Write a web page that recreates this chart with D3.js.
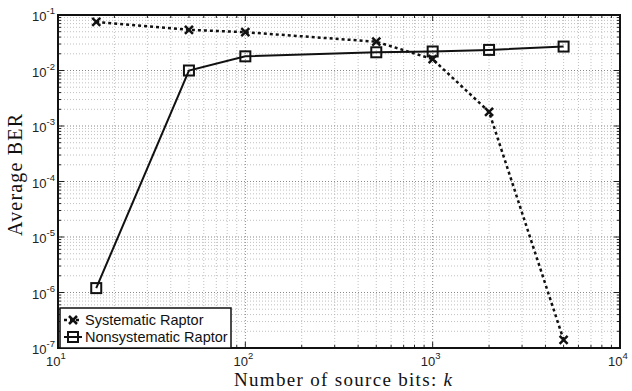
<!DOCTYPE html>
<html><head><meta charset="utf-8">
<script src="https://cdn.jsdelivr.net/npm/d3@7"></script>
<style>body{margin:0;background:#fff}svg{display:block}</style>
</head><body>
<script>
const kValues = [16, 50, 100, 500, 1000, 2000, 5000];
const systematicBER = [0.075, 0.054, 0.049, 0.033, 0.016, 0.0018, 1.4e-7];
const nonsystematicBER = [1.2e-6, 0.01, 0.018, 0.0213, 0.022, 0.0235, 0.027];
const seriesNames = ["Systematic Raptor", "Nonsystematic Raptor"];
const xTickExps = [1, 2, 3, 4];
const yTickExps = [-1, -2, -3, -4, -5, -6, -7];

const W = 632, H = 391;
const m = {l: 58, r: 12, t: 15, b: 43};
const svg = d3.select("body").append("svg").attr("width", W).attr("height", H);
const x = d3.scaleLog().domain([10, 1e4]).range([m.l, W - m.r]);
const y = d3.scaleLog().domain([1e-7, 1e-1]).range([H - m.b, m.t]);
const x0 = m.l, x1 = W - m.r, y0 = H - m.b, y1 = m.t;

const xMinor = [], yMinor = [];
for (let e = 1; e < 4; e++) for (let d = 2; d <= 9; d++) xMinor.push(d * Math.pow(10, e));
for (let e = -7; e < -1; e++) for (let d = 2; d <= 9; d++) yMinor.push(d * Math.pow(10, e));
const xMajor = xTickExps.map(e => Math.pow(10, e));
const yMajor = yTickExps.map(e => Math.pow(10, e));

const g = svg.append("g");
g.selectAll(".gxm").data(xMinor).enter().append("line")
  .attr("x1", d => x(d)).attr("x2", d => x(d)).attr("y1", y0).attr("y2", y1)
  .attr("stroke", "#b0b0b0").attr("stroke-width", 0.8).attr("stroke-dasharray", "1,2");
g.selectAll(".gym").data(yMinor).enter().append("line")
  .attr("y1", d => y(d)).attr("y2", d => y(d)).attr("x1", x0).attr("x2", x1)
  .attr("stroke", "#b0b0b0").attr("stroke-width", 0.8).attr("stroke-dasharray", "1,2");
g.selectAll(".gxM").data(xMajor).enter().append("line")
  .attr("x1", d => x(d)).attr("x2", d => x(d)).attr("y1", y0).attr("y2", y1)
  .attr("stroke", "#888").attr("stroke-width", 1).attr("stroke-dasharray", "1,2");
g.selectAll(".gyM").data(yMajor).enter().append("line")
  .attr("y1", d => y(d)).attr("y2", d => y(d)).attr("x1", x0).attr("x2", x1)
  .attr("stroke", "#888").attr("stroke-width", 1).attr("stroke-dasharray", "1,2");

function ticks(vals, len, horiz) {
  vals.forEach(v => {
    if (horiz) {
      const p = x(v);
      g.append("line").attr("x1", p).attr("x2", p).attr("y1", y0).attr("y2", y0 - len).attr("stroke", "#222").attr("stroke-width", 1);
      g.append("line").attr("x1", p).attr("x2", p).attr("y1", y1).attr("y2", y1 + len).attr("stroke", "#222").attr("stroke-width", 1);
    } else {
      const p = y(v);
      g.append("line").attr("y1", p).attr("y2", p).attr("x1", x0).attr("x2", x0 + len).attr("stroke", "#222").attr("stroke-width", 1);
      g.append("line").attr("y1", p).attr("y2", p).attr("x1", x1).attr("x2", x1 - len).attr("stroke", "#222").attr("stroke-width", 1);
    }
  });
}
ticks(xMinor, 3, true); ticks(xMajor, 6, true);
ticks(yMinor, 3, false); ticks(yMajor, 6, false);

const tf = "Liberation Sans, Arial, sans-serif";
xTickExps.forEach(e => {
  const t = svg.append("text").attr("x", x(Math.pow(10, e)) - 2).attr("y", y0 + 18)
    .attr("text-anchor", "middle").attr("font-family", tf).attr("font-size", 13).attr("fill", "#222");
  t.append("tspan").text("10");
  t.append("tspan").text(e).attr("font-size", 9.5).attr("dy", -7);
});
yTickExps.forEach(e => {
  const t = svg.append("text").attr("x", x0 - 3).attr("y", y(Math.pow(10, e)) + 6)
    .attr("text-anchor", "end").attr("font-family", tf).attr("font-size", 13).attr("fill", "#222");
  t.append("tspan").text("10");
  t.append("tspan").text(e).attr("font-size", 9.5).attr("dy", -7);
});

const sys = kValues.map((k, i) => [k, systematicBER[i]]);
const non = kValues.map((k, i) => [k, nonsystematicBER[i]]);
const line = d3.line().x(d => x(d[0])).y(d => y(d[1]));
svg.append("path").attr("d", line(non)).attr("fill", "none").attr("stroke", "#111").attr("stroke-width", 2);
svg.append("path").attr("d", line(sys)).attr("fill", "none").attr("stroke", "#111").attr("stroke-width", 2.5).attr("stroke-dasharray", "3,3");

function square(gg, cx, cy) {
  gg.append("rect").attr("x", cx - 5).attr("y", cy - 5).attr("width", 10).attr("height", 10)
    .attr("fill", "none").attr("stroke", "#111").attr("stroke-width", 2);
}
function cross(gg, cx, cy) {
  const s = 4;
  gg.append("path").attr("d", `M${cx - s},${cy - s}L${cx + s},${cy + s}M${cx - s},${cy + s}L${cx + s},${cy - s}`)
    .attr("stroke", "#111").attr("stroke-width", 2.5).attr("fill", "none");
}
non.forEach(d => square(svg, x(d[0]), y(d[1])));
sys.forEach(d => cross(svg, x(d[0]), y(d[1])));

svg.append("rect").attr("x", x0).attr("y", y1).attr("width", x1 - x0).attr("height", y0 - y1)
  .attr("fill", "none").attr("stroke", "#111").attr("stroke-width", 2);

// legend
const lg = svg.append("g");
const lx = x0 + 2, ly = 308, lw = 171, lh = 40;
lg.append("rect").attr("x", lx).attr("y", ly).attr("width", lw).attr("height", lh)
  .attr("fill", "#fff").attr("stroke", "#111").attr("stroke-width", 1.5);
const rows = [ly + 12, ly + 29];
lg.append("line").attr("x1", lx + 4).attr("x2", lx + 22).attr("y1", rows[0]).attr("y2", rows[0])
  .attr("stroke", "#111").attr("stroke-width", 2.5).attr("stroke-dasharray", "3,3");
cross(lg, lx + 13, rows[0]);
lg.append("line").attr("x1", lx + 4).attr("x2", lx + 22).attr("y1", rows[1]).attr("y2", rows[1])
  .attr("stroke", "#111").attr("stroke-width", 2);
square(lg, lx + 13, rows[1]);
seriesNames.forEach((n, i) => {
  lg.append("text").attr("x", lx + 25).attr("y", rows[i] + 5).text(n)
    .attr("font-family", tf).attr("font-size", 14.5).attr("fill", "#111");
});

// axis labels
const sf = "Liberation Serif, serif";
const xl = svg.append("text").attr("x", 343).attr("y", 386).attr("text-anchor", "middle")
  .attr("font-family", sf).attr("font-size", 19).attr("fill", "#111")
  .attr("textLength", 218).attr("lengthAdjust", "spacing");
xl.append("tspan").text("Number of source bits: ");
xl.append("tspan").text("k").attr("font-style", "italic");
svg.append("text").attr("transform", `translate(22,175) rotate(-90)`).attr("text-anchor", "middle")
  .attr("font-family", sf).attr("font-size", 20).attr("fill", "#111")
  .attr("textLength", 122).attr("lengthAdjust", "spacing").text("Average BER");
</script>
</body></html>
